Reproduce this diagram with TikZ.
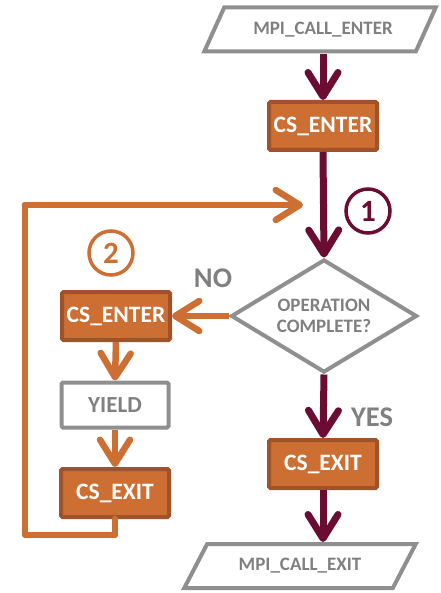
\documentclass[tikz,border=0pt]{standalone}
\usepackage{fontspec}
\setmainfont{Carlito}
\usetikzlibrary{arrows.meta,shapes.geometric}
\definecolor{maroonc}{HTML}{6B0D33}
\definecolor{orangefill}{HTML}{CD6E33}
\definecolor{orangeline}{HTML}{A0522A}
\definecolor{grayline}{HTML}{8F8F8F}
\definecolor{graytext}{HTML}{808080}
\tikzset{
  csbox/.style={draw=orangeline, fill=orangefill, line width=4pt, rounded corners=1.5pt,
    minimum width=108pt, minimum height=48pt, inner sep=0pt, text=white,
    font=\fontsize{23.5}{27}\selectfont\bfseries},
  graybox/.style={draw=grayline, fill=white, line width=4pt, rounded corners=1.5pt,
    minimum width=107pt, minimum height=45pt, inner sep=0pt, text=graytext,
    font=\fontsize{23}{27}\selectfont\bfseries},
  io/.style={trapezium, trapezium left angle=45, trapezium right angle=135, trapezium stretches=true,
    draw=grayline, fill=white, line width=4pt, minimum width=232pt, minimum height=44pt, inner sep=0pt,
    text=graytext, font=\fontsize{19}{23}\selectfont\bfseries},
  decision/.style={diamond, draw=grayline, fill=white, line width=4pt, minimum width=186pt,
    minimum height=113pt, aspect=1.65, inner sep=0pt, align=center, text=graytext,
    font=\fontsize{19}{20.5}\selectfont\bfseries},
  chev/.style={-{Straight Barb[length=24pt,width=30pt,round]}},
  mflow/.style={draw=maroonc, line width=7pt, chev},
  oflow/.style={draw=orangefill, line width=6.5pt, chev},
  olink/.style={draw=orangefill, line width=6.5pt, line cap=round, line join=round},
  lbl/.style={text=graytext, font=\fontsize{28.5}{32}\selectfont\bfseries, inner sep=0pt},
  numc/.style={circle, line width=3.5pt, minimum size=44pt, inner sep=0pt,
    font=\fontsize{31}{34}\selectfont\bfseries},
}
\begin{document}
\begin{tikzpicture}[x=1pt,y=-1pt]
\useasboundingbox (0,0) rectangle (440,593);
\node[io] (enter) at (320,29.5) {\hspace*{6pt}MPI\_CALL\_ENTER};
\node[csbox] (cs1) at (323,126) {CS\_ENTER};
\node[decision] (dec) at (324,316) {OPERATION\\COMPLETE?};
\node[csbox] (cs2) at (116,316) {CS\_ENTER};
\node[graybox] (yield) at (115,405) {YIELD};
\node[csbox] (cx2) at (115,493) {CS\_EXIT};
\node[csbox] (cx1) at (323,464) {CS\_EXIT};
\node[io] (exit) at (300,566) {MPI\_CALL\_EXIT};
\node[lbl] (no) at (213,278) {NO};
\node[lbl] (yes) at (372,417) {YES};
\node[numc, draw=maroonc, text=maroonc] (n1) at (368,211) {1};
\node[numc, draw=orangefill, text=orangefill] (n2) at (111,253) {2};
\coordinate (loopend) at (303,205);
\coordinate (c1) at (115,535);
\coordinate (c2) at (25,535);
\coordinate (c3) at (25,205);

\draw[mflow] (cs1.north |- enter.south) -- (cs1.north);
\draw[mflow] (cs1.south) -- (dec.north);
\draw[mflow] (dec.south) -- (cx1.north);
\draw[mflow] (cx1.south) -- (cx1.south |- exit.north);
\draw[oflow] (dec.west) -- (cs2.east);
\draw[oflow] (cs2.south) -- (yield.north);
\draw[oflow] (yield.south) -- (cx2.north);
\draw[olink] (cx2.south) -- (c1) -- (c2) -- (c3) -- ++(10,0);
\draw[oflow, line cap=round] (c3) -- (loopend);
\end{tikzpicture}
\end{document}
